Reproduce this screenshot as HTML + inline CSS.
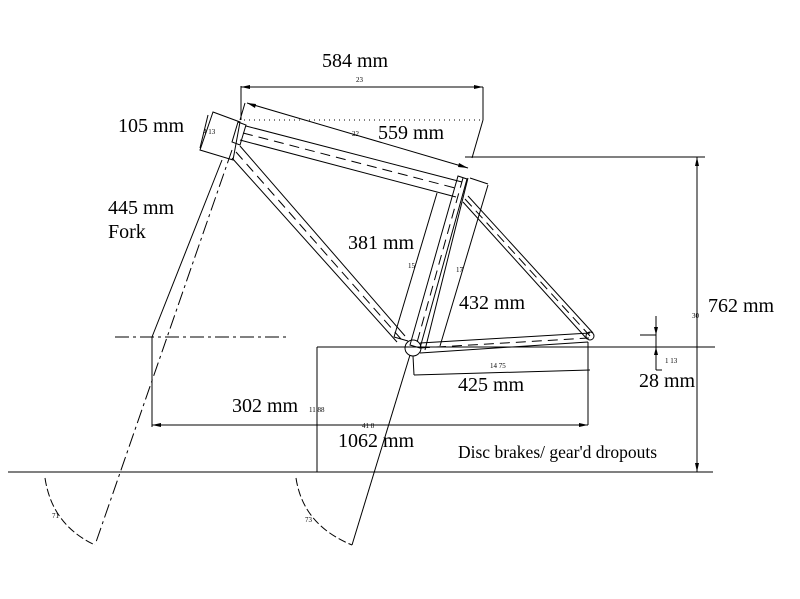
<!DOCTYPE html>
<html><head><style>
body{margin:0;background:#fff;}
svg{display:block;}
text{font-family:"Liberation Serif",serif;fill:#000;}
.t{font-size:20px;}
.s{font-size:7px;}
</style></head><body>
<svg width="800" height="599" viewBox="0 0 800 599" xmlns="http://www.w3.org/2000/svg">
<g stroke="#000" stroke-width="1" fill="none">
<line x1="8" y1="472" x2="713" y2="472"/>
<line x1="241" y1="120" x2="241" y2="86"/>
<line x1="241" y1="87" x2="483" y2="87"/>
<line x1="483" y1="87" x2="483" y2="120"/>
<line x1="483" y1="120" x2="472" y2="158"/>
<line x1="244" y1="120" x2="483" y2="120" stroke-dasharray="1,4"/>
<line x1="247" y1="103" x2="468" y2="168"/>
<line x1="245" y1="103" x2="240" y2="120"/>
<polygon points="213,112 240,122 233,160 200,150"/>
<line x1="208" y1="115" x2="200" y2="148"/>
<polygon points="238,122 246,125 240,145 232,142"/>
<line x1="246" y1="126" x2="462" y2="182"/>
<line x1="240" y1="140" x2="456" y2="197"/>
<line x1="243" y1="133" x2="459" y2="189" stroke-dasharray="10,6"/>
<polygon points="458,176 467,179 420,348 410,345"/>
<line x1="463" y1="178" x2="416" y2="346" stroke-dasharray="10,6"/>
<line x1="468" y1="178" x2="425" y2="350"/>
<line x1="437" y1="193" x2="394" y2="337"/>
<line x1="394" y1="337" x2="408" y2="341"/>
<line x1="488" y1="185" x2="440" y2="346"/>
<line x1="470" y1="178" x2="488" y2="184"/>
<line x1="240" y1="146" x2="405" y2="336"/>
<line x1="232" y1="158" x2="397" y2="342"/>
<line x1="236" y1="152" x2="401" y2="339" stroke-dasharray="10,6"/>
<line x1="468" y1="196" x2="593" y2="333"/>
<line x1="463" y1="202" x2="587" y2="339"/>
<line x1="465" y1="199" x2="590" y2="336" stroke-dasharray="10,6"/>
<line x1="420" y1="343" x2="590" y2="333"/>
<line x1="420" y1="353" x2="588" y2="342"/>
<line x1="420" y1="348" x2="589" y2="338" stroke-dasharray="10,6"/>
<circle cx="413" cy="348" r="8"/>
<circle cx="590" cy="336" r="4"/>
<line x1="317" y1="347" x2="715" y2="347"/>
<line x1="317" y1="347" x2="317" y2="472"/>
<line x1="413" y1="356" x2="414" y2="375"/>
<line x1="414" y1="375" x2="590" y2="370"/>
<line x1="588" y1="342" x2="588" y2="425"/>
<line x1="656" y1="316" x2="656" y2="370"/>
<line x1="640" y1="335" x2="656" y2="335"/>
<line x1="656" y1="370" x2="662" y2="370"/>
<line x1="465" y1="157" x2="705" y2="157"/>
<line x1="697" y1="157" x2="697" y2="472"/>
<line x1="152" y1="337" x2="152" y2="427"/>
<line x1="152" y1="425" x2="588" y2="425"/>
<line x1="115" y1="337" x2="290" y2="337" stroke-dasharray="14,4,3,4"/>
<line x1="152" y1="337" x2="222" y2="160"/>
<line x1="232" y1="150" x2="95" y2="545" stroke-dasharray="14,4,3,4"/>
<line x1="410" y1="355" x2="352" y2="545"/>
<path d="M45,478 Q52,525 95,545" stroke-dasharray="8,3"/>
<path d="M296,478 Q303,525 352,545" stroke-dasharray="8,3"/>
</g>
<g fill="#000">
<polygon points="241,87 250,85 250,89"/>
<polygon points="483,87 474,85 474,89"/>
<polygon points="247,103 256,104 255,108"/>
<polygon points="468,168 459,163 458,167"/>
<polygon points="697,157 695,166 699,166"/>
<polygon points="697,472 695,463 699,463"/>
<polygon points="152,425 161,423 161,427"/>
<polygon points="588,425 579,423 579,427"/>
<polygon points="656,335 654,327 658,327"/>
<polygon points="656,347 654,355 658,355"/>
</g>
<text class="t" x="322" y="67">584 mm</text>
<text class="s" x="356" y="82">23</text>
<text class="t" x="118" y="132">105 mm</text>
<text class="s" x="203" y="134">4 13</text>
<text class="s" x="352" y="136">22</text>
<text class="t" x="378" y="139">559 mm</text>
<text class="t" x="108" y="214">445 mm</text>
<text class="t" x="108" y="238">Fork</text>
<text class="t" x="348" y="249">381 mm</text>
<text class="s" x="408" y="268">15</text>
<text class="s" x="456" y="272">17</text>
<text class="t" x="459" y="309">432 mm</text>
<text class="t" x="708" y="312">762 mm</text>
<text class="s" x="692" y="318">30</text>
<text class="s" x="665" y="363">1 13</text>
<text class="s" x="490" y="368">14 75</text>
<text class="t" x="639" y="387">28 mm</text>
<text class="t" x="458" y="391">425 mm</text>
<text class="t" x="232" y="412">302 mm</text>
<text class="s" x="309" y="412">11 88</text>
<text class="s" x="362" y="428">41 8</text>
<text class="t" x="338" y="447">1062 mm</text>
<text x="458" y="458" style="font-size:17.5px">Disc brakes/ gear'd dropouts</text>
<text class="s" x="52" y="518">71</text>
<text class="s" x="305" y="522">73</text>
</svg>
</body></html>
